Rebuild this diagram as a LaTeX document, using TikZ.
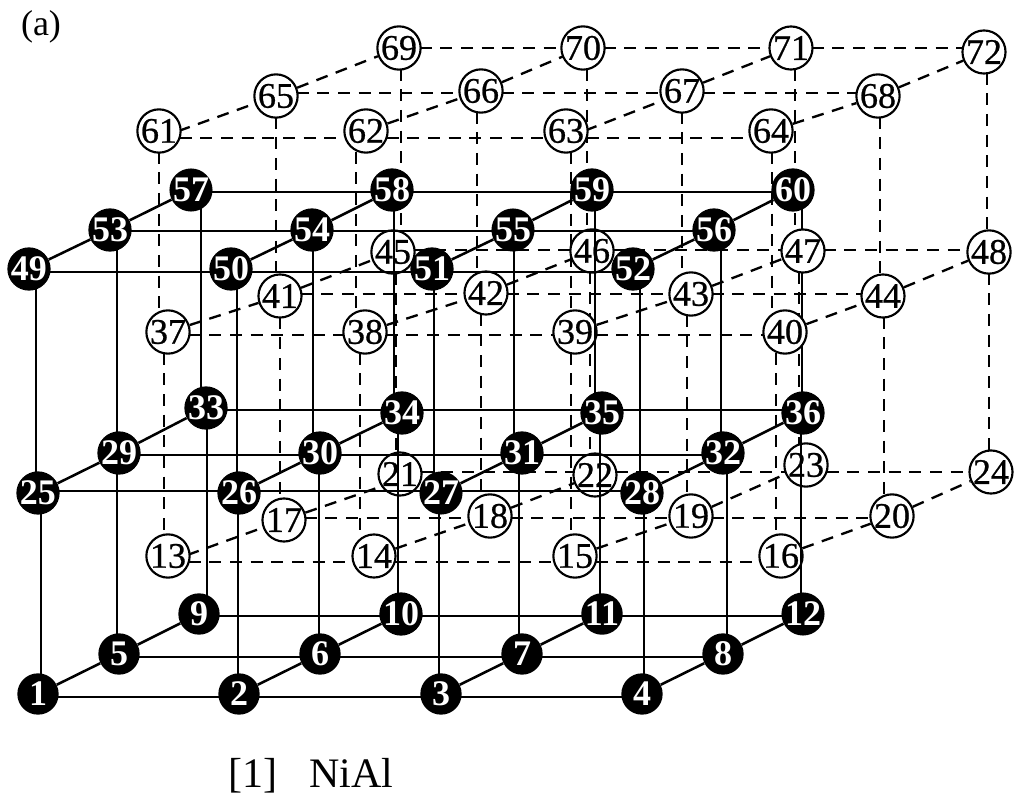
\documentclass[tikz,border=0pt]{standalone}
\usepackage{fontspec}
\setmainfont{Liberation Serif}
\newfontfamily\atomfont[RawFeature={embolden=0.7}]{Liberation Serif}
\usepackage{tikz}
\pgfdeclarelayer{dashes}
\pgfdeclarelayer{whites}
\pgfdeclarelayer{bonds}
\pgfsetlayers{dashes,whites,bonds,main}
\tikzset{
  blackatom/.style={circle,fill=black,text=white,inner sep=0pt,minimum size=31pt,font=\fontsize{27}{27}\selectfont\bfseries},
  whiteatom/.style={circle,draw=black,fill=white,line width=1.6pt,inner sep=0pt,minimum size=30pt,font=\fontsize{27}{27}\atomfont},
  bond/.style={line width=1.9pt},
  dashbond/.style={line width=1.75pt,dash pattern=on 9pt off 6.5pt}
}
\begin{document}
\begin{tikzpicture}[x=0.75pt,y=-0.75pt]
  \useasboundingbox (0,0) rectangle (1015,795);
  \node[font=\fontsize{27}{27}\selectfont] (tag) at (41,27) {(a)};
  \node[font=\fontsize{31.5}{32}\selectfont,anchor=base] (title) at (311,787) {[1]\ \ \ NiAl};

  \node[blackatom] (n1) at (38,694) {1};
  \node[blackatom] (n2) at (239,694) {2};
  \node[blackatom] (n3) at (441,694) {3};
  \node[blackatom] (n4) at (642,694) {4};
  \node[blackatom] (n5) at (119,654) {5};
  \node[blackatom] (n6) at (320,654) {6};
  \node[blackatom] (n7) at (522,654) {7};
  \node[blackatom] (n8) at (723,654) {8};
  \node[blackatom] (n9) at (199,614) {9};
  \node[blackatom] (n10) at (401,614) {10};
  \node[blackatom] (n11) at (602,614) {11};
  \node[blackatom] (n12) at (803,614) {12};
  \node[blackatom] (n25) at (38,493) {25};
  \node[blackatom] (n26) at (239,493) {26};
  \node[blackatom] (n27) at (441,493) {27};
  \node[blackatom] (n28) at (642,493) {28};
  \node[blackatom] (n29) at (119,453) {29};
  \node[blackatom] (n30) at (320,453) {30};
  \node[blackatom] (n31) at (522,453) {31};
  \node[blackatom] (n32) at (723,453) {32};
  \node[blackatom] (n33) at (206,408) {33};
  \node[blackatom] (n34) at (402,413) {34};
  \node[blackatom] (n35) at (602,413) {35};
  \node[blackatom] (n36) at (803,413) {36};
  \node[blackatom] (n49) at (29,269) {49};
  \node[blackatom] (n50) at (231,269) {50};
  \node[blackatom] (n51) at (432,269) {51};
  \node[blackatom] (n52) at (633,269) {52};
  \node[blackatom] (n53) at (110,230) {53};
  \node[blackatom] (n54) at (312,230) {54};
  \node[blackatom] (n55) at (513,230) {55};
  \node[blackatom] (n56) at (714,230) {56};
  \node[blackatom] (n57) at (191,190) {57};
  \node[blackatom] (n58) at (392,190) {58};
  \node[blackatom] (n59) at (592,190) {59};
  \node[blackatom] (n60) at (793,190) {60};

  \begin{pgfonlayer}{whites}
  \node[whiteatom] (n13) at (168,556) {13};
  \node[whiteatom] (n14) at (374,556) {14};
  \node[whiteatom] (n15) at (575,556) {15};
  \node[whiteatom] (n16) at (781,556) {16};
  \node[whiteatom] (n17) at (284,520) {17};
  \node[whiteatom] (n18) at (490,516) {18};
  \node[whiteatom] (n19) at (691,516) {19};
  \node[whiteatom] (n20) at (892,516) {20};
  \node[whiteatom] (n21) at (400,474) {21};
  \node[whiteatom] (n22) at (595,475) {22};
  \node[whiteatom] (n23) at (806,465) {23};
  \node[whiteatom] (n24) at (991,472) {24};
  \node[whiteatom] (n37) at (168,332) {37};
  \node[whiteatom] (n38) at (365,332) {38};
  \node[whiteatom] (n39) at (575,332) {39};
  \node[whiteatom] (n40) at (785,332) {40};
  \node[whiteatom] (n41) at (280,296) {41};
  \node[whiteatom] (n42) at (486,293) {42};
  \node[whiteatom] (n43) at (691,294) {43};
  \node[whiteatom] (n44) at (883,296) {44};
  \node[whiteatom] (n45) at (393,252) {45};
  \node[whiteatom] (n46) at (592,251) {46};
  \node[whiteatom] (n47) at (803,251) {47};
  \node[whiteatom] (n48) at (989,252) {48};
  \node[whiteatom] (n61) at (159,131) {61};
  \node[whiteatom] (n62) at (366,131) {62};
  \node[whiteatom] (n63) at (566,131) {63};
  \node[whiteatom] (n64) at (771,131) {64};
  \node[whiteatom] (n65) at (276,96) {65};
  \node[whiteatom] (n66) at (481,91) {66};
  \node[whiteatom] (n67) at (682,91) {67};
  \node[whiteatom] (n68) at (878,96) {68};
  \node[whiteatom] (n69) at (399,48) {69};
  \node[whiteatom] (n70) at (583,48) {70};
  \node[whiteatom] (n71) at (791,48) {71};
  \node[whiteatom] (n72) at (984,52) {72};
  \end{pgfonlayer}

  \begin{pgfonlayer}{dashes}
  \draw[dashbond] (n13 |- 0,562) -- (n14 |- 0,562);
  \draw[dashbond] (n14 |- 0,562) -- (n15 |- 0,562);
  \draw[dashbond] (n15 |- 0,562) -- (n16 |- 0,562);
  \draw[dashbond] (n17 |- 0,518) -- (n18 |- 0,518);
  \draw[dashbond] (n18 |- 0,518) -- (n19 |- 0,518);
  \draw[dashbond] (n19 |- 0,518) -- (n20 |- 0,518);
  \draw[dashbond] (n21 |- 0,472) -- (n22 |- 0,472);
  \draw[dashbond] (n22 |- 0,472) -- (n23 |- 0,472);
  \draw[dashbond] (n23 |- 0,472) -- (n24 |- 0,472);
  \draw[dashbond] (n37 |- 0,335) -- (n38 |- 0,335);
  \draw[dashbond] (n38 |- 0,335) -- (n39 |- 0,335);
  \draw[dashbond] (n39 |- 0,335) -- (n40 |- 0,335);
  \draw[dashbond] (n41 |- 0,294) -- (n42 |- 0,294);
  \draw[dashbond] (n42 |- 0,294) -- (n43 |- 0,294);
  \draw[dashbond] (n43 |- 0,294) -- (n44 |- 0,294);
  \draw[dashbond] (n45 |- 0,250) -- (n46 |- 0,250);
  \draw[dashbond] (n46 |- 0,250) -- (n47 |- 0,250);
  \draw[dashbond] (n47 |- 0,250) -- (n48 |- 0,250);
  \draw[dashbond] (n61 |- 0,138) -- (n62 |- 0,138);
  \draw[dashbond] (n62 |- 0,138) -- (n63 |- 0,138);
  \draw[dashbond] (n63 |- 0,138) -- (n64 |- 0,138);
  \draw[dashbond] (n65 |- 0,93) -- (n66 |- 0,93);
  \draw[dashbond] (n66 |- 0,93) -- (n67 |- 0,93);
  \draw[dashbond] (n67 |- 0,93) -- (n68 |- 0,93);
  \draw[dashbond] (n69 |- 0,48) -- (n70 |- 0,48);
  \draw[dashbond] (n70 |- 0,48) -- (n71 |- 0,48);
  \draw[dashbond] (n71 |- 0,48) -- (n72 |- 0,48);

  \draw[dashbond] (n13 |- 0,562) -- (n17);
  \draw[dashbond] (n17) -- (n21 |- 0,480);
  \draw[dashbond] (n14) -- (n18);
  \draw[dashbond] (n18) -- (n22);
  \draw[dashbond] (n15) -- (n19);
  \draw[dashbond] (n19) -- (n23);
  \draw[dashbond] (n16) -- (n20);
  \draw[dashbond] (n20) -- (n24);
  \draw[dashbond] (n37) -- (n41);
  \draw[dashbond] (n41) -- (n45);
  \draw[dashbond] (n38) -- (n42);
  \draw[dashbond] (n42) -- (n46);
  \draw[dashbond] (n39) -- (n43);
  \draw[dashbond] (n43) -- (n47);
  \draw[dashbond] (n40) -- (n44);
  \draw[dashbond] (n44) -- (n48);
  \draw[dashbond] (n61 |- 0,138) -- (n65);
  \draw[dashbond] (n65) -- (n69);
  \draw[dashbond] (n62) -- (n66);
  \draw[dashbond] (n66) -- (n70 |- 0,48);
  \draw[dashbond] (n63 |- 0,138) -- (n67 |- 0,93);
  \draw[dashbond] (n67) -- (n71);
  \draw[dashbond] (n64) -- (n68);
  \draw[dashbond] (n68) -- (n72);

  \draw[dashbond] (159,0 |- n61) -- (159,0 |- n37);
  \draw[dashbond] (164,0 |- n37) -- (164,0 |- n13);
  \draw[dashbond] (276,0 |- n65) -- (276,0 |- n41);
  \draw[dashbond] (280,0 |- n41) -- (280,0 |- n17);
  \draw[dashbond] (401,0 |- n69) -- (401,0 |- n45);
  \draw[dashbond] (396,0 |- n45) -- (396,0 |- n21);
  \draw[dashbond] (356,0 |- n62) -- (356,0 |- n38);
  \draw[dashbond] (360,0 |- n38) -- (360,0 |- n14);
  \draw[dashbond] (477,0 |- n66) -- (477,0 |- n42);
  \draw[dashbond] (481,0 |- n42) -- (481,0 |- n18);
  \draw[dashbond] (587,0 |- n70) -- (587,0 |- n46);
  \draw[dashbond] (590,0 |- n46) -- (590,0 |- n22);
  \draw[dashbond] (571,0 |- n63) -- (571,0 |- n39);
  \draw[dashbond] (571,0 |- n39) -- (571,0 |- n15);
  \draw[dashbond] (682,0 |- n67) -- (682,0 |- n43);
  \draw[dashbond] (687,0 |- n43) -- (687,0 |- n19);
  \draw[dashbond] (795,0 |- n71) -- (795,0 |- n47);
  \draw[dashbond] (799,0 |- n47) -- (799,0 |- n23);
  \draw[dashbond] (772,0 |- n64) -- (772,0 |- n40);
  \draw[dashbond] (776,0 |- n40) -- (776,0 |- n16);
  \draw[dashbond] (880,0 |- n68) -- (880,0 |- n44);
  \draw[dashbond] (884,0 |- n44) -- (884,0 |- n20);
  \draw[dashbond] (987,0 |- n72) -- (987,0 |- n48);
  \draw[dashbond] (989,0 |- n48) -- (989,0 |- n24);

  \draw[bond] (802,0 |- n36) -- (802,0 |- n60);
  \end{pgfonlayer}

  \begin{pgfonlayer}{bonds}
  \draw[bond] (n1 |- 0,697) -- (n2 |- 0,697);
  \draw[bond] (n2 |- 0,697) -- (n3 |- 0,697);
  \draw[bond] (n3 |- 0,697) -- (n4 |- 0,697);
  \draw[bond] (n5 |- 0,657) -- (n6 |- 0,657);
  \draw[bond] (n6 |- 0,657) -- (n7 |- 0,657);
  \draw[bond] (n7 |- 0,657) -- (n8 |- 0,657);
  \draw[bond] (n9 |- 0,616) -- (n10 |- 0,616);
  \draw[bond] (n10 |- 0,616) -- (n11 |- 0,616);
  \draw[bond] (n11 |- 0,616) -- (n12 |- 0,616);
  \draw[bond] (n25 |- 0,491) -- (n26 |- 0,491);
  \draw[bond] (n26 |- 0,491) -- (n27 |- 0,491);
  \draw[bond] (n27 |- 0,491) -- (n28 |- 0,491);
  \draw[bond] (n29 |- 0,455) -- (n30 |- 0,455);
  \draw[bond] (n30 |- 0,455) -- (n31 |- 0,455);
  \draw[bond] (n31 |- 0,455) -- (n32 |- 0,455);
  \draw[bond] (n33 |- 0,410) -- (n34 |- 0,410);
  \draw[bond] (n34 |- 0,410) -- (n35 |- 0,410);
  \draw[bond] (n35 |- 0,410) -- (n36 |- 0,410);
  \draw[bond] (n49 |- 0,272) -- (n50 |- 0,272);
  \draw[bond] (n50 |- 0,272) -- (n51 |- 0,272);
  \draw[bond] (n51 |- 0,272) -- (n52 |- 0,272);
  \draw[bond] (n53 |- 0,231) -- (n54 |- 0,231);
  \draw[bond] (n54 |- 0,231) -- (n55 |- 0,231);
  \draw[bond] (n55 |- 0,231) -- (n56 |- 0,231);
  \draw[bond] (n57 |- 0,192) -- (n58 |- 0,192);
  \draw[bond] (n58 |- 0,192) -- (n59 |- 0,192);
  \draw[bond] (n59 |- 0,192) -- (n60 |- 0,192);

  \draw[bond] (n1) -- (n5);
  \draw[bond] (n5) -- (n9);
  \draw[bond] (n2) -- (n6);
  \draw[bond] (n6) -- (n10);
  \draw[bond] (n3) -- (n7);
  \draw[bond] (n7) -- (n11);
  \draw[bond] (n4) -- (n8);
  \draw[bond] (n8) -- (n12);
  \draw[bond] (n25) -- (n29);
  \draw[bond] (n29) -- (n33);
  \draw[bond] (n26) -- (n30);
  \draw[bond] (n30) -- (n34);
  \draw[bond] (n27) -- (n31);
  \draw[bond] (n31) -- (n35);
  \draw[bond] (n28) -- (n32);
  \draw[bond] (n32) -- (n36);
  \draw[bond] (n49) -- (n53);
  \draw[bond] (n53) -- (n57);
  \draw[bond] (n50) -- (n54);
  \draw[bond] (n54) -- (n58);
  \draw[bond] (n51) -- (n55);
  \draw[bond] (n55) -- (n59);
  \draw[bond] (n52) -- (n56);
  \draw[bond] (n56) -- (n60);

  \draw[bond] (41,0 |- n1) -- (41,0 |- n25);
  \draw[bond] (36,0 |- n25) -- (36,0 |- n49);
  \draw[bond] (117,0 |- n5) -- (117,0 |- n29);
  \draw[bond] (117,0 |- n29) -- (117,0 |- n53);
  \draw[bond] (207,0 |- n9) -- (207,0 |- n33);
  \draw[bond] (201,0 |- n33) -- (201,0 |- n57);
  \draw[bond] (238,0 |- n2) -- (238,0 |- n26);
  \draw[bond] (237,0 |- n26) -- (237,0 |- n50);
  \draw[bond] (319,0 |- n6) -- (319,0 |- n30);
  \draw[bond] (313,0 |- n30) -- (313,0 |- n54);
  \draw[bond] (398,0 |- n10) -- (398,0 |- n34);
  \draw[bond] (394,0 |- n34) -- (394,0 |- n58);
  \draw[bond] (439,0 |- n3) -- (439,0 |- n27);
  \draw[bond] (434,0 |- n27) -- (434,0 |- n51);
  \draw[bond] (519,0 |- n7) -- (519,0 |- n31);
  \draw[bond] (514,0 |- n31) -- (514,0 |- n55);
  \draw[bond] (600,0 |- n11) -- (600,0 |- n35);
  \draw[bond] (595,0 |- n35) -- (595,0 |- n59);
  \draw[bond] (644,0 |- n4) -- (644,0 |- n28);
  \draw[bond] (640,0 |- n28) -- (640,0 |- n52);
  \draw[bond] (727,0 |- n8) -- (727,0 |- n32);
  \draw[bond] (721,0 |- n32) -- (721,0 |- n56);
  \draw[bond] (801,0 |- n12) -- (801,0 |- n36);
  \end{pgfonlayer}
\end{tikzpicture}
\end{document}
